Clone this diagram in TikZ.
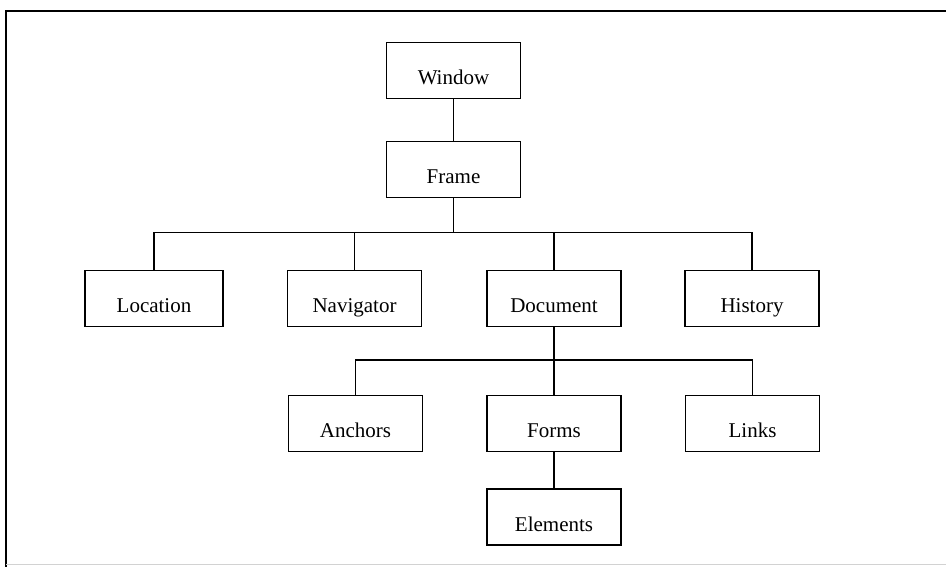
\documentclass[tikz,border=0pt]{standalone}
\usepackage{fontspec}
\setmainfont{Liberation Serif}
\begin{document}
\begin{tikzpicture}[x=1pt,y=-1pt,
  box/.style={draw=black, line width=1.2pt, minimum width=134pt, minimum height=56pt,
    inner sep=0pt, text height=28pt, text depth=0pt, font=\fontsize{21}{24}\selectfont},
  link/.style={draw=black, line width=1.2pt},
  frameline/.style={draw=black, line width=1.8pt}]
\useasboundingbox (0,0) rectangle (946,567);
% outer frame
\draw[frameline] (6,567) -- (6,11) -- (946,11);
\draw[gray!35, line width=1pt] (6,564.5) -- (946,564.5);
% nodes
\node[box] (win) at (453.5,70.5) {Window};
\node[box] (frm) at (453.5,169.5) {Frame};
\node[box, minimum width=138pt] (loc) at (154,298.5) {Location};
\node[box] (nav) at (354.5,298.5) {Navigator};
\node[box] (doc) at (554,298.5) {Document};
\node[box] (his) at (752,298.5) {History};
\node[box] (anc) at (355.5,423.5) {Anchors};
\node[box] (frms) at (554,423.5) {Forms};
\node[box] (lnk) at (752.5,423.5) {Links};
\node[box] (ele) at (554,517) {Elements};
% connectors
\coordinate (bar1) at (453.5,232.5);
\coordinate (bar2) at (554,360);
\draw[link] (win.south) -- (frm.north);
\draw[link] (frm.south) -- (bar1);
\draw[link] (loc.north) |- (bar1) -| (his.north);
\draw[link] (nav.north) -- (nav.north |- bar1);
\draw[link] (doc.north) -- (doc.north |- bar1);
\draw[link] (doc.south) -- (bar2);
\draw[link] (anc.north) |- (bar2) -| (lnk.north);
\draw[link] (bar2) -- (frms.north);
\draw[link] (frms.south) -- (ele.north);
\end{tikzpicture}
\end{document}
